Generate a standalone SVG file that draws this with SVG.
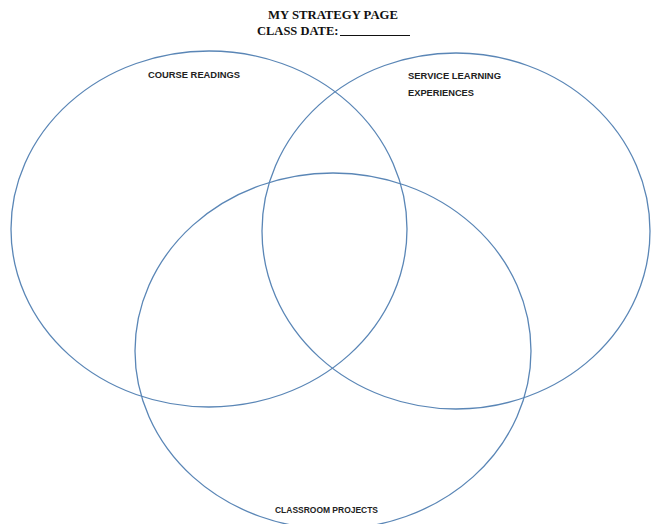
<svg xmlns="http://www.w3.org/2000/svg" width="651" height="524" viewBox="0 0 651 524">
<style>
.c{fill:none;stroke:#5a86b6;stroke-width:1.3}
.t{font-family:"Liberation Serif",serif;font-weight:bold;font-size:12.5px;fill:#111}
.l{font-family:"Liberation Sans",Arial,sans-serif;font-weight:bold;font-size:9.4px;fill:#222}
</style>
<rect width="651" height="524" fill="#fff"/>
<g id="title">
<text class="t" x="268" y="19" textLength="130" lengthAdjust="spacingAndGlyphs">MY STRATEGY PAGE</text>
<text class="t" x="257" y="35">CLASS DATE:</text>
<line x1="340" y1="35.5" x2="410" y2="35.5" stroke="#111" stroke-width="1"/>
</g>
<g id="course-readings">
<ellipse class="c" cx="209" cy="229" rx="198" ry="178"/>
<text class="l" x="148" y="77.5" textLength="92" lengthAdjust="spacingAndGlyphs">COURSE READINGS</text>
</g>
<g id="service-learning">
<ellipse class="c" cx="456" cy="231" rx="194" ry="178"/>
<text class="l" x="408" y="78.5" textLength="93" lengthAdjust="spacingAndGlyphs">SERVICE LEARNING</text>
<text class="l" x="408" y="95.5" textLength="66" lengthAdjust="spacingAndGlyphs">EXPERIENCES</text>
</g>
<g id="classroom-projects">
<ellipse class="c" cx="333" cy="351" rx="198" ry="178"/>
<text class="l" x="275" y="512.5" textLength="103" lengthAdjust="spacingAndGlyphs">CLASSROOM PROJECTS</text>
</g>
<g id="connectors"></g>
</svg>
